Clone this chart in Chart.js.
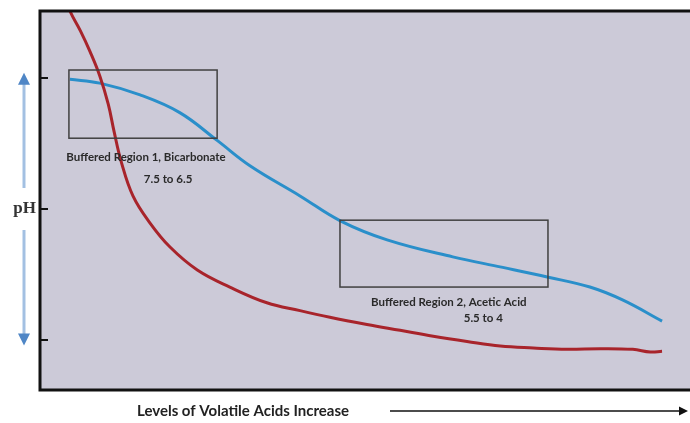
<!DOCTYPE html>
<html>
<head>
<meta charset="utf-8">
<script src="https://cdn.jsdelivr.net/npm/chart.js@4"></script>
<style>
    html, body { margin: 0; padding: 0; background: #fff; }
</style>
</head>
<body>
<canvas id="grafico" width="690" height="423"></canvas>
<script>
// curva roja (sin amortiguador)
const rojoX  = [3.4, 4.6, 6.2, 7.7, 9.2, 10.5, 11.4, 12.5, 14.3, 16.9, 20.0, 24.2, 29.2, 34.9, 40.0, 44.6, 50.3, 55.4, 60.5, 65.7, 70.8, 75.9, 81.1, 86.2, 91.2, 93.9, 95.7];
const rojoPH = [9.34, 9.02, 8.72, 8.40, 8.03, 7.60, 7.18, 6.72, 6.20, 5.79, 5.42, 5.07, 4.81, 4.57, 4.45, 4.35, 4.24, 4.15, 4.06, 3.98, 3.91, 3.88, 3.86, 3.87, 3.86, 3.82, 3.83];
// curva azul (amortiguada)
const azulX  = [4.6, 9.2, 15.4, 21.5, 27.2, 32.3, 40.0, 46.2, 53.4, 63.5, 71.2, 78.2, 84.6, 89.7, 95.7];
const azulPH = [7.98, 7.92, 7.74, 7.47, 7.05, 6.66, 6.20, 5.82, 5.53, 5.27, 5.11, 4.96, 4.81, 4.61, 4.29];
const ticksPH = [4, 6, 8];
const regiones = ["Buffered Region 1, Bicarbonate", "Buffered Region 2, Acetic Acid"];
const rangos = ["7.5 to 6.5", "5.5 to 4"];
const ejeY = "pH";
const ejeX = "Levels of Volatile Acids Increase";

function puntos(xs, ys){
    return xs.map((x, i) => ({x: x, y: ys[i]}));
}

function flecha(ctx, x0, y0, x1, y1, color, ancho, cabeza, colorCabeza){
    let ang = Math.atan2(y1 - y0, x1 - x0);
    ctx.strokeStyle = color;
    ctx.lineWidth = ancho;
    ctx.beginPath();
    ctx.moveTo(x0, y0);
    ctx.lineTo(x1 - Math.cos(ang) * cabeza * 0.8, y1 - Math.sin(ang) * cabeza * 0.8);
    ctx.stroke();
    ctx.fillStyle = colorCabeza;
    ctx.beginPath();
    ctx.moveTo(x1, y1);
    ctx.lineTo(x1 - Math.cos(ang) * cabeza - Math.sin(ang) * cabeza * 0.5, y1 - Math.sin(ang) * cabeza + Math.cos(ang) * cabeza * 0.5);
    ctx.lineTo(x1 - Math.cos(ang) * cabeza + Math.sin(ang) * cabeza * 0.5, y1 - Math.sin(ang) * cabeza - Math.cos(ang) * cabeza * 0.5);
    ctx.closePath();
    ctx.fill();
}

const fondo = {
    id: 'fondo',
    beforeDraw(chart){
        const {ctx, chartArea: a} = chart;
        ctx.save();
        ctx.fillStyle = '#cccad8';
        ctx.fillRect(a.left, a.top, a.right - a.left, a.bottom - a.top);
        ctx.restore();
    }
};

const anotaciones = {
    id: 'anotaciones',
    afterDatasetsDraw(chart){
        const {ctx, chartArea: a} = chart;
        const sx = chart.scales.x, sy = chart.scales.y;
        ctx.save();

        // cajas de las regiones amortiguadas
        let cajas = [[4.45, 27.25, 8.12, 7.08], [46.15, 78.15, 5.83, 4.81]];
        ctx.strokeStyle = '#404040';
        ctx.lineWidth = 1.5;
        cajas.forEach(c => {
            let x0 = sx.getPixelForValue(c[0]), x1 = sx.getPixelForValue(c[1]);
            let y0 = sy.getPixelForValue(c[2]), y1 = sy.getPixelForValue(c[3]);
            ctx.strokeRect(x0, y0, x1 - x0, y1 - y0);
        });

        // textos de las regiones
        ctx.fillStyle = '#2a2a2a';
        ctx.textAlign = 'center';
        ctx.textBaseline = 'middle';
        ctx.font = "bold 11.5px Lato";
        let textos = [[regiones[0], 16.3, 6.79], [rangos[0], 19.7, 6.46], [regiones[1], 62.9, 4.57], [rangos[1], 68.2, 4.34]];
        textos.forEach(t => {
            ctx.fillText(t[0], sx.getPixelForValue(t[1]), sy.getPixelForValue(t[2]));
        });

        // marco: izquierda, arriba, abajo
        ctx.strokeStyle = '#111';
        ctx.lineWidth = 3;
        ctx.beginPath();
        ctx.moveTo(a.right, a.top);
        ctx.lineTo(a.left, a.top);
        ctx.lineTo(a.left, a.bottom);
        ctx.lineTo(a.right, a.bottom);
        ctx.stroke();

        // marcas del eje y hacia adentro
        ctx.lineWidth = 2;
        ticksPH.forEach(v => {
            let y = Math.round(sy.getPixelForValue(v));
            ctx.beginPath();
            ctx.moveTo(a.left, y);
            ctx.lineTo(a.left + 8, y);
            ctx.stroke();
        });

        // etiqueta pH con flechas
        let yMid = sy.getPixelForValue(6);
        ctx.fillStyle = '#333';
        ctx.font = "bold 17px 'Liberation Serif'";
        ctx.textAlign = 'right';
        ctx.fillText(ejeY, 36, yMid);
        flecha(ctx, 24, yMid - 21, 24, sy.getPixelForValue(8.08), '#a3c0e2', 3, 12, '#4f86c6');
        flecha(ctx, 24, yMid + 21, 24, sy.getPixelForValue(3.92), '#a3c0e2', 3, 12, '#4f86c6');

        // etiqueta x con flecha
        ctx.fillStyle = '#222';
        ctx.font = "bold 15px Lato";
        ctx.textAlign = 'left';
        ctx.fillText(ejeX, 137, 411);
        flecha(ctx, 390, 411, 688, 411, '#111', 1.5, 9, '#111');

        ctx.restore();
    }
};

new Chart(document.getElementById("grafico"), {
    type: 'line',
    data: {
        datasets: [
            {
                label: "Sin amortiguar",
                data: puntos(rojoX, rojoPH),
                borderColor: '#a8242b',
                borderWidth: 3,
                pointRadius: 0,
                tension: 0.4,
                fill: false
            },
            {
                label: "Amortiguado",
                data: puntos(azulX, azulPH),
                borderColor: '#2a8fca',
                borderWidth: 3,
                pointRadius: 0,
                tension: 0.4,
                fill: false
            }
        ]
    },
    options: {
        responsive: false,
        animation: false,
        layout: { padding: { left: 40, top: 11, right: 0, bottom: 33 } },
        plugins: {
            legend: { display: false },
            tooltip: { enabled: false }
        },
        scales: {
            x: { type: 'linear', min: 0, max: 100, display: false },
            y: { type: 'linear', min: 3.24, max: 9.02, display: false }
        }
    },
    plugins: [fondo, anotaciones]
});
</script>
</body>
</html>
